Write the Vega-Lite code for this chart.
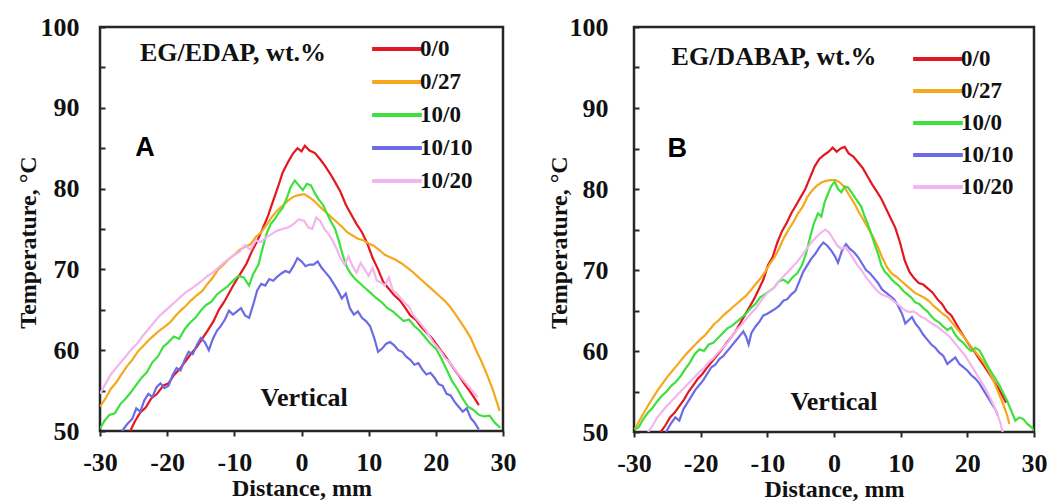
{
"$schema": "https://vega.github.io/schema/vega-lite/v6.json",
"padding": {"left": 14, "top": 12, "right": 5, "bottom": 0},
"spacing": 27,
"background": "white",
"config": {
  "view": {"stroke": "#262626", "strokeWidth": 2.5},
  "font": "Liberation Serif",
  "axis": {"grid": false, "domain": false, "ticks": true, "tickColor": "#262626", "tickWidth": 2, "labelFont": "Liberation Serif", "labelFontWeight": "bold", "labelFontSize": 26, "labelColor": "#111", "titleFont": "Liberation Serif", "titleFontWeight": "bold", "titleFontSize": 24, "titleColor": "#111", "labelOverlap": false, "labelFlush": false},
  "legend": {"orient": "none", "padding": 0, "symbolType": "M-1.35,-0.04H1.35V0.04H-1.35Z", "symbolSize": 1225, "symbolStrokeWidth": 2.5, "labelFont": "Liberation Serif", "labelFontWeight": "bold", "labelFontSize": 23, "labelColor": "#111", "rowPadding": 2, "title": null}
},
"datasets": {
"A": [
{"s":"0/0","x":-25.5,"t":50.0},{"s":"0/0","x":-24.8,"t":51.2},{"s":"0/0","x":-24,"t":52.3},{"s":"0/0","x":-23.2,"t":52.9},{"s":"0/0","x":-22.4,"t":54.0},{"s":"0/0","x":-21.5,"t":54.6},{"s":"0/0","x":-20.6,"t":55.6},{"s":"0/0","x":-19.8,"t":55.9},{"s":"0/0","x":-19,"t":56.9},{"s":"0/0","x":-18.2,"t":57.6},{"s":"0/0","x":-17.3,"t":58.6},{"s":"0/0","x":-16.5,"t":59.5},{"s":"0/0","x":-15.6,"t":60.4},{"s":"0/0","x":-14.8,"t":61.4},{"s":"0/0","x":-14,"t":62.4},{"s":"0/0","x":-13.1,"t":63.6},{"s":"0/0","x":-12.3,"t":65.0},{"s":"0/0","x":-11.5,"t":66.0},{"s":"0/0","x":-10.7,"t":67.2},{"s":"0/0","x":-9.9,"t":68.4},{"s":"0/0","x":-9,"t":69.6},{"s":"0/0","x":-8.2,"t":70.7},{"s":"0/0","x":-7.4,"t":72.2},{"s":"0/0","x":-6.6,"t":73.5},{"s":"0/0","x":-5.8,"t":75.0},{"s":"0/0","x":-5,"t":76.6},{"s":"0/0","x":-4.3,"t":78.3},{"s":"0/0","x":-3.5,"t":80.2},{"s":"0/0","x":-2.8,"t":82.0},{"s":"0/0","x":-2,"t":83.3},{"s":"0/0","x":-1.3,"t":84.3},{"s":"0/0","x":-0.6,"t":85.0},{"s":"0/0","x":0,"t":84.6},{"s":"0/0","x":0.5,"t":85.3},{"s":"0/0","x":1.2,"t":84.7},{"s":"0/0","x":2,"t":84.4},{"s":"0/0","x":2.8,"t":83.6},{"s":"0/0","x":3.5,"t":82.8},{"s":"0/0","x":4.3,"t":81.8},{"s":"0/0","x":5,"t":80.8},{"s":"0/0","x":5.8,"t":79.6},{"s":"0/0","x":6.6,"t":78.0},{"s":"0/0","x":7.4,"t":76.8},{"s":"0/0","x":8.2,"t":75.6},{"s":"0/0","x":9,"t":74.6},{"s":"0/0","x":9.8,"t":73.2},{"s":"0/0","x":10.6,"t":71.4},{"s":"0/0","x":11.4,"t":70.0},{"s":"0/0","x":12.2,"t":68.4},{"s":"0/0","x":13,"t":67.6},{"s":"0/0","x":13.8,"t":66.8},{"s":"0/0","x":14.6,"t":66.2},{"s":"0/0","x":15.4,"t":65.3},{"s":"0/0","x":16.2,"t":64.3},{"s":"0/0","x":17,"t":63.8},{"s":"0/0","x":17.8,"t":62.9},{"s":"0/0","x":18.6,"t":62.2},{"s":"0/0","x":19.4,"t":61.5},{"s":"0/0","x":20.2,"t":60.6},{"s":"0/0","x":21,"t":59.7},{"s":"0/0","x":21.8,"t":58.8},{"s":"0/0","x":22.6,"t":57.8},{"s":"0/0","x":23.4,"t":56.9},{"s":"0/0","x":24.2,"t":55.9},{"s":"0/0","x":25,"t":55.0},{"s":"0/0","x":25.8,"t":54.0},{"s":"0/0","x":26.4,"t":53.2},
{"s":"0/27","x":-30,"t":53.0},{"s":"0/27","x":-29.2,"t":54.0},{"s":"0/27","x":-28.4,"t":55.2},{"s":"0/27","x":-27.6,"t":56.0},{"s":"0/27","x":-26.8,"t":57.0},{"s":"0/27","x":-26,"t":58.0},{"s":"0/27","x":-25.2,"t":58.8},{"s":"0/27","x":-24.4,"t":59.8},{"s":"0/27","x":-23.6,"t":60.5},{"s":"0/27","x":-22.8,"t":61.2},{"s":"0/27","x":-22,"t":61.8},{"s":"0/27","x":-21.2,"t":62.4},{"s":"0/27","x":-20.4,"t":62.9},{"s":"0/27","x":-19.6,"t":63.4},{"s":"0/27","x":-18.8,"t":64.2},{"s":"0/27","x":-18,"t":64.9},{"s":"0/27","x":-17.2,"t":65.5},{"s":"0/27","x":-16.4,"t":66.2},{"s":"0/27","x":-15.6,"t":66.8},{"s":"0/27","x":-14.8,"t":67.3},{"s":"0/27","x":-14,"t":68.2},{"s":"0/27","x":-13.2,"t":69.0},{"s":"0/27","x":-12.4,"t":70.0},{"s":"0/27","x":-11.6,"t":70.6},{"s":"0/27","x":-10.8,"t":71.3},{"s":"0/27","x":-10,"t":71.8},{"s":"0/27","x":-9.2,"t":72.4},{"s":"0/27","x":-8.4,"t":72.8},{"s":"0/27","x":-7.6,"t":73.1},{"s":"0/27","x":-6.8,"t":74.0},{"s":"0/27","x":-6,"t":74.6},{"s":"0/27","x":-5.2,"t":75.5},{"s":"0/27","x":-4.4,"t":76.5},{"s":"0/27","x":-3.6,"t":77.3},{"s":"0/27","x":-2.8,"t":77.9},{"s":"0/27","x":-2,"t":78.5},{"s":"0/27","x":-1.2,"t":79.0},{"s":"0/27","x":-0.4,"t":79.2},{"s":"0/27","x":0.4,"t":79.3},{"s":"0/27","x":1.2,"t":78.9},{"s":"0/27","x":2,"t":78.4},{"s":"0/27","x":2.8,"t":77.7},{"s":"0/27","x":3.6,"t":77.1},{"s":"0/27","x":4.4,"t":76.5},{"s":"0/27","x":5.2,"t":75.9},{"s":"0/27","x":6,"t":75.3},{"s":"0/27","x":6.8,"t":74.6},{"s":"0/27","x":7.6,"t":74.2},{"s":"0/27","x":8.4,"t":73.8},{"s":"0/27","x":9.2,"t":73.6},{"s":"0/27","x":10,"t":73.2},{"s":"0/27","x":10.8,"t":72.9},{"s":"0/27","x":11.6,"t":72.4},{"s":"0/27","x":12.4,"t":71.8},{"s":"0/27","x":13.2,"t":71.5},{"s":"0/27","x":14,"t":71.2},{"s":"0/27","x":14.8,"t":70.8},{"s":"0/27","x":15.6,"t":70.3},{"s":"0/27","x":16.4,"t":69.8},{"s":"0/27","x":17.2,"t":69.2},{"s":"0/27","x":18,"t":68.6},{"s":"0/27","x":18.8,"t":68.0},{"s":"0/27","x":19.6,"t":67.4},{"s":"0/27","x":20.4,"t":66.8},{"s":"0/27","x":21.2,"t":66.2},{"s":"0/27","x":22,"t":65.5},{"s":"0/27","x":22.8,"t":64.6},{"s":"0/27","x":23.6,"t":63.6},{"s":"0/27","x":24.4,"t":62.6},{"s":"0/27","x":25.2,"t":61.5},{"s":"0/27","x":26,"t":60.0},{"s":"0/27","x":26.8,"t":58.6},{"s":"0/27","x":27.6,"t":57.0},{"s":"0/27","x":28.4,"t":55.3},{"s":"0/27","x":29,"t":53.8},{"s":"0/27","x":29.5,"t":52.5},
{"s":"10/0","x":-30,"t":50.3},{"s":"10/0","x":-29.3,"t":51.3},{"s":"10/0","x":-28.6,"t":52.0},{"s":"10/0","x":-27.8,"t":52.2},{"s":"10/0","x":-27,"t":53.3},{"s":"10/0","x":-26.2,"t":54.0},{"s":"10/0","x":-25.4,"t":54.8},{"s":"10/0","x":-24.6,"t":55.7},{"s":"10/0","x":-23.8,"t":56.6},{"s":"10/0","x":-23,"t":57.3},{"s":"10/0","x":-22.2,"t":58.5},{"s":"10/0","x":-21.4,"t":59.2},{"s":"10/0","x":-20.6,"t":60.4},{"s":"10/0","x":-19.8,"t":61.0},{"s":"10/0","x":-19,"t":61.7},{"s":"10/0","x":-18.2,"t":61.4},{"s":"10/0","x":-17.4,"t":62.6},{"s":"10/0","x":-16.6,"t":63.4},{"s":"10/0","x":-15.8,"t":64.0},{"s":"10/0","x":-15,"t":64.9},{"s":"10/0","x":-14.2,"t":65.6},{"s":"10/0","x":-13.4,"t":66.0},{"s":"10/0","x":-12.6,"t":66.9},{"s":"10/0","x":-11.8,"t":67.4},{"s":"10/0","x":-11,"t":67.9},{"s":"10/0","x":-10.2,"t":68.6},{"s":"10/0","x":-9.4,"t":69.2},{"s":"10/0","x":-8.6,"t":69.0},{"s":"10/0","x":-7.8,"t":68.0},{"s":"10/0","x":-7.2,"t":69.4},{"s":"10/0","x":-6.4,"t":70.6},{"s":"10/0","x":-5.8,"t":72.6},{"s":"10/0","x":-5.2,"t":74.4},{"s":"10/0","x":-4.6,"t":75.6},{"s":"10/0","x":-4,"t":76.2},{"s":"10/0","x":-3.4,"t":77.0},{"s":"10/0","x":-2.8,"t":77.6},{"s":"10/0","x":-2.2,"t":78.8},{"s":"10/0","x":-1.6,"t":80.2},{"s":"10/0","x":-1,"t":81.0},{"s":"10/0","x":-0.4,"t":80.4},{"s":"10/0","x":0.2,"t":79.8},{"s":"10/0","x":0.8,"t":80.6},{"s":"10/0","x":1.4,"t":80.4},{"s":"10/0","x":2,"t":79.4},{"s":"10/0","x":2.6,"t":78.6},{"s":"10/0","x":3.2,"t":78.0},{"s":"10/0","x":3.8,"t":76.9},{"s":"10/0","x":4.4,"t":75.9},{"s":"10/0","x":5,"t":75.0},{"s":"10/0","x":5.6,"t":73.4},{"s":"10/0","x":6.2,"t":71.6},{"s":"10/0","x":6.8,"t":70.2},{"s":"10/0","x":7.4,"t":69.4},{"s":"10/0","x":8,"t":68.8},{"s":"10/0","x":8.8,"t":68.2},{"s":"10/0","x":9.6,"t":67.6},{"s":"10/0","x":10.4,"t":67.0},{"s":"10/0","x":11.2,"t":66.4},{"s":"10/0","x":12,"t":65.9},{"s":"10/0","x":12.8,"t":65.2},{"s":"10/0","x":13.6,"t":64.8},{"s":"10/0","x":14.4,"t":64.2},{"s":"10/0","x":15.2,"t":63.6},{"s":"10/0","x":16,"t":63.8},{"s":"10/0","x":16.8,"t":63.0},{"s":"10/0","x":17.6,"t":62.4},{"s":"10/0","x":18.4,"t":61.6},{"s":"10/0","x":19.2,"t":60.8},{"s":"10/0","x":20,"t":60.2},{"s":"10/0","x":20.8,"t":59.0},{"s":"10/0","x":21.6,"t":57.6},{"s":"10/0","x":22.4,"t":56.2},{"s":"10/0","x":23.2,"t":55.2},{"s":"10/0","x":24,"t":54.0},{"s":"10/0","x":24.8,"t":53.0},{"s":"10/0","x":25.6,"t":52.6},{"s":"10/0","x":26.4,"t":52.0},{"s":"10/0","x":27.2,"t":51.8},{"s":"10/0","x":28,"t":51.9},{"s":"10/0","x":28.8,"t":51.0},{"s":"10/0","x":29.6,"t":50.4},
{"s":"10/10","x":-26.7,"t":50.0},{"s":"10/10","x":-26,"t":50.8},{"s":"10/10","x":-25.2,"t":51.5},{"s":"10/10","x":-24.6,"t":52.8},{"s":"10/10","x":-24,"t":52.4},{"s":"10/10","x":-23.4,"t":53.8},{"s":"10/10","x":-22.8,"t":54.6},{"s":"10/10","x":-22.2,"t":54.2},{"s":"10/10","x":-21.6,"t":55.4},{"s":"10/10","x":-21,"t":55.9},{"s":"10/10","x":-20.4,"t":55.3},{"s":"10/10","x":-19.8,"t":55.6},{"s":"10/10","x":-19.2,"t":56.9},{"s":"10/10","x":-18.6,"t":57.8},{"s":"10/10","x":-18,"t":57.5},{"s":"10/10","x":-17.4,"t":58.8},{"s":"10/10","x":-16.8,"t":59.8},{"s":"10/10","x":-16.2,"t":59.5},{"s":"10/10","x":-15.6,"t":60.6},{"s":"10/10","x":-15,"t":61.5},{"s":"10/10","x":-14.4,"t":61.0},{"s":"10/10","x":-13.8,"t":60.0},{"s":"10/10","x":-13.2,"t":61.4},{"s":"10/10","x":-12.6,"t":62.4},{"s":"10/10","x":-12,"t":63.0},{"s":"10/10","x":-11.4,"t":63.8},{"s":"10/10","x":-10.8,"t":64.9},{"s":"10/10","x":-10.2,"t":64.4},{"s":"10/10","x":-9.6,"t":64.8},{"s":"10/10","x":-9,"t":65.2},{"s":"10/10","x":-8.4,"t":64.3},{"s":"10/10","x":-7.8,"t":64.0},{"s":"10/10","x":-7.2,"t":65.6},{"s":"10/10","x":-6.6,"t":67.4},{"s":"10/10","x":-6,"t":68.2},{"s":"10/10","x":-5.4,"t":68.0},{"s":"10/10","x":-4.8,"t":68.8},{"s":"10/10","x":-4.2,"t":68.6},{"s":"10/10","x":-3.6,"t":69.1},{"s":"10/10","x":-3,"t":69.5},{"s":"10/10","x":-2.4,"t":69.8},{"s":"10/10","x":-1.8,"t":69.6},{"s":"10/10","x":-1.2,"t":70.4},{"s":"10/10","x":-0.6,"t":71.4},{"s":"10/10","x":0,"t":71.0},{"s":"10/10","x":0.6,"t":70.4},{"s":"10/10","x":1.2,"t":70.6},{"s":"10/10","x":1.8,"t":70.6},{"s":"10/10","x":2.4,"t":71.0},{"s":"10/10","x":3,"t":70.2},{"s":"10/10","x":3.6,"t":69.6},{"s":"10/10","x":4.2,"t":69.0},{"s":"10/10","x":4.8,"t":68.2},{"s":"10/10","x":5.4,"t":67.4},{"s":"10/10","x":6,"t":66.4},{"s":"10/10","x":6.6,"t":67.0},{"s":"10/10","x":7.2,"t":65.2},{"s":"10/10","x":7.8,"t":64.4},{"s":"10/10","x":8.4,"t":64.8},{"s":"10/10","x":9,"t":64.0},{"s":"10/10","x":9.6,"t":63.6},{"s":"10/10","x":10.2,"t":63.0},{"s":"10/10","x":10.8,"t":61.6},{"s":"10/10","x":11.4,"t":59.8},{"s":"10/10","x":12,"t":60.2},{"s":"10/10","x":12.6,"t":60.8},{"s":"10/10","x":13.2,"t":61.0},{"s":"10/10","x":13.8,"t":60.6},{"s":"10/10","x":14.4,"t":60.0},{"s":"10/10","x":15,"t":59.8},{"s":"10/10","x":15.6,"t":59.2},{"s":"10/10","x":16.2,"t":58.8},{"s":"10/10","x":16.8,"t":58.2},{"s":"10/10","x":17.4,"t":58.4},{"s":"10/10","x":18,"t":57.6},{"s":"10/10","x":18.6,"t":57.0},{"s":"10/10","x":19.2,"t":57.2},{"s":"10/10","x":19.8,"t":56.6},{"s":"10/10","x":20.4,"t":55.8},{"s":"10/10","x":21,"t":55.6},{"s":"10/10","x":21.6,"t":54.6},{"s":"10/10","x":22.2,"t":54.4},{"s":"10/10","x":22.8,"t":53.6},{"s":"10/10","x":23.4,"t":53.0},{"s":"10/10","x":24,"t":52.4},{"s":"10/10","x":24.6,"t":52.8},{"s":"10/10","x":25.2,"t":51.6},{"s":"10/10","x":25.8,"t":51.0},{"s":"10/10","x":26.4,"t":50.2},
{"s":"10/20","x":-30,"t":54.6},{"s":"10/20","x":-29.2,"t":55.8},{"s":"10/20","x":-28.4,"t":57.0},{"s":"10/20","x":-27.6,"t":57.8},{"s":"10/20","x":-26.8,"t":58.6},{"s":"10/20","x":-26,"t":59.4},{"s":"10/20","x":-25.2,"t":60.2},{"s":"10/20","x":-24.4,"t":60.9},{"s":"10/20","x":-23.6,"t":61.8},{"s":"10/20","x":-22.8,"t":62.6},{"s":"10/20","x":-22,"t":63.4},{"s":"10/20","x":-21.2,"t":64.2},{"s":"10/20","x":-20.4,"t":64.8},{"s":"10/20","x":-19.6,"t":65.4},{"s":"10/20","x":-18.8,"t":66.0},{"s":"10/20","x":-18,"t":66.6},{"s":"10/20","x":-17.2,"t":67.2},{"s":"10/20","x":-16.4,"t":67.6},{"s":"10/20","x":-15.6,"t":68.1},{"s":"10/20","x":-14.8,"t":68.6},{"s":"10/20","x":-14,"t":69.2},{"s":"10/20","x":-13.2,"t":69.6},{"s":"10/20","x":-12.4,"t":70.2},{"s":"10/20","x":-11.6,"t":70.8},{"s":"10/20","x":-10.8,"t":71.3},{"s":"10/20","x":-10,"t":71.8},{"s":"10/20","x":-9.2,"t":72.2},{"s":"10/20","x":-8.4,"t":73.0},{"s":"10/20","x":-7.6,"t":72.4},{"s":"10/20","x":-6.8,"t":73.6},{"s":"10/20","x":-6,"t":73.4},{"s":"10/20","x":-5.2,"t":74.0},{"s":"10/20","x":-4.4,"t":74.4},{"s":"10/20","x":-3.6,"t":74.8},{"s":"10/20","x":-2.8,"t":75.0},{"s":"10/20","x":-2,"t":75.2},{"s":"10/20","x":-1.2,"t":75.6},{"s":"10/20","x":-0.4,"t":76.2},{"s":"10/20","x":0.4,"t":76.0},{"s":"10/20","x":1,"t":75.2},{"s":"10/20","x":1.6,"t":75.0},{"s":"10/20","x":2.2,"t":76.4},{"s":"10/20","x":2.8,"t":76.0},{"s":"10/20","x":3.4,"t":75.0},{"s":"10/20","x":4,"t":74.4},{"s":"10/20","x":4.6,"t":73.6},{"s":"10/20","x":5.2,"t":72.6},{"s":"10/20","x":5.8,"t":71.4},{"s":"10/20","x":6.4,"t":70.6},{"s":"10/20","x":7,"t":71.6},{"s":"10/20","x":7.6,"t":70.4},{"s":"10/20","x":8.2,"t":69.6},{"s":"10/20","x":8.8,"t":70.8},{"s":"10/20","x":9.4,"t":70.0},{"s":"10/20","x":10,"t":69.2},{"s":"10/20","x":10.6,"t":70.2},{"s":"10/20","x":11.2,"t":68.6},{"s":"10/20","x":11.8,"t":68.4},{"s":"10/20","x":12.4,"t":68.0},{"s":"10/20","x":13,"t":69.0},{"s":"10/20","x":13.6,"t":67.4},{"s":"10/20","x":14.2,"t":67.0},{"s":"10/20","x":14.8,"t":66.4},{"s":"10/20","x":15.4,"t":65.8},{"s":"10/20","x":16,"t":65.4},{"s":"10/20","x":16.6,"t":64.4},{"s":"10/20","x":17.2,"t":63.8},{"s":"10/20","x":17.8,"t":63.2},{"s":"10/20","x":18.4,"t":62.6},{"s":"10/20","x":19,"t":61.8},{"s":"10/20","x":19.6,"t":61.0},{"s":"10/20","x":20.2,"t":60.4},{"s":"10/20","x":20.8,"t":59.8},{"s":"10/20","x":21.4,"t":59.0},{"s":"10/20","x":22,"t":58.6},{"s":"10/20","x":22.6,"t":57.9},{"s":"10/20","x":23.2,"t":57.2},{"s":"10/20","x":23.8,"t":56.6},{"s":"10/20","x":24.4,"t":56.0},{"s":"10/20","x":25,"t":55.4},{"s":"10/20","x":25.6,"t":54.8},{"s":"10/20","x":26.2,"t":54.2}
],
"B": [
{"s":"0/0","x":-26,"t":50.0},{"s":"0/0","x":-25.3,"t":50.8},{"s":"0/0","x":-24.6,"t":51.8},{"s":"0/0","x":-23.9,"t":52.4},{"s":"0/0","x":-23.2,"t":53.2},{"s":"0/0","x":-22.5,"t":54.0},{"s":"0/0","x":-21.8,"t":55.0},{"s":"0/0","x":-21.1,"t":55.8},{"s":"0/0","x":-20.4,"t":56.6},{"s":"0/0","x":-19.7,"t":57.2},{"s":"0/0","x":-19,"t":58.0},{"s":"0/0","x":-18.3,"t":58.7},{"s":"0/0","x":-17.6,"t":59.4},{"s":"0/0","x":-16.9,"t":60.1},{"s":"0/0","x":-16.2,"t":60.9},{"s":"0/0","x":-15.5,"t":61.6},{"s":"0/0","x":-14.8,"t":62.4},{"s":"0/0","x":-14.1,"t":63.4},{"s":"0/0","x":-13.4,"t":64.4},{"s":"0/0","x":-12.7,"t":65.4},{"s":"0/0","x":-12,"t":66.4},{"s":"0/0","x":-11.3,"t":67.6},{"s":"0/0","x":-10.6,"t":68.8},{"s":"0/0","x":-9.9,"t":70.6},{"s":"0/0","x":-9.2,"t":71.6},{"s":"0/0","x":-8.5,"t":73.4},{"s":"0/0","x":-7.8,"t":74.8},{"s":"0/0","x":-7.1,"t":75.8},{"s":"0/0","x":-6.4,"t":77.0},{"s":"0/0","x":-5.7,"t":78.0},{"s":"0/0","x":-5,"t":79.0},{"s":"0/0","x":-4.3,"t":80.0},{"s":"0/0","x":-3.6,"t":81.4},{"s":"0/0","x":-2.9,"t":82.8},{"s":"0/0","x":-2.2,"t":83.7},{"s":"0/0","x":-1.5,"t":84.2},{"s":"0/0","x":-0.8,"t":84.6},{"s":"0/0","x":-0.2,"t":85.1},{"s":"0/0","x":0.4,"t":84.6},{"s":"0/0","x":1,"t":85.0},{"s":"0/0","x":1.6,"t":85.2},{"s":"0/0","x":2.2,"t":84.4},{"s":"0/0","x":2.9,"t":84.0},{"s":"0/0","x":3.6,"t":83.3},{"s":"0/0","x":4.3,"t":82.6},{"s":"0/0","x":5,"t":81.6},{"s":"0/0","x":5.7,"t":80.6},{"s":"0/0","x":6.4,"t":79.7},{"s":"0/0","x":7.1,"t":78.8},{"s":"0/0","x":7.8,"t":77.6},{"s":"0/0","x":8.5,"t":76.4},{"s":"0/0","x":9.2,"t":75.2},{"s":"0/0","x":9.9,"t":73.4},{"s":"0/0","x":10.6,"t":71.2},{"s":"0/0","x":11.3,"t":69.8},{"s":"0/0","x":12,"t":69.0},{"s":"0/0","x":12.7,"t":68.4},{"s":"0/0","x":13.4,"t":68.2},{"s":"0/0","x":14.1,"t":67.7},{"s":"0/0","x":14.8,"t":67.2},{"s":"0/0","x":15.5,"t":66.4},{"s":"0/0","x":16.2,"t":65.8},{"s":"0/0","x":16.9,"t":64.9},{"s":"0/0","x":17.6,"t":64.4},{"s":"0/0","x":18.3,"t":63.4},{"s":"0/0","x":19,"t":62.4},{"s":"0/0","x":19.7,"t":61.5},{"s":"0/0","x":20.4,"t":60.6},{"s":"0/0","x":21.1,"t":59.9},{"s":"0/0","x":21.8,"t":59.0},{"s":"0/0","x":22.5,"t":58.2},{"s":"0/0","x":23.2,"t":57.3},{"s":"0/0","x":23.9,"t":56.4},{"s":"0/0","x":24.6,"t":55.5},{"s":"0/0","x":25.3,"t":54.4},{"s":"0/0","x":25.8,"t":53.6},
{"s":"0/27","x":-29.9,"t":50.3},{"s":"0/27","x":-29.2,"t":51.4},{"s":"0/27","x":-28.5,"t":52.4},{"s":"0/27","x":-27.8,"t":53.4},{"s":"0/27","x":-27.1,"t":54.3},{"s":"0/27","x":-26.4,"t":55.2},{"s":"0/27","x":-25.7,"t":56.0},{"s":"0/27","x":-25,"t":56.8},{"s":"0/27","x":-24.3,"t":57.5},{"s":"0/27","x":-23.6,"t":58.2},{"s":"0/27","x":-22.9,"t":58.9},{"s":"0/27","x":-22.2,"t":59.6},{"s":"0/27","x":-21.5,"t":60.2},{"s":"0/27","x":-20.8,"t":60.8},{"s":"0/27","x":-20.1,"t":61.4},{"s":"0/27","x":-19.4,"t":61.9},{"s":"0/27","x":-18.7,"t":62.6},{"s":"0/27","x":-18,"t":63.3},{"s":"0/27","x":-17.3,"t":63.8},{"s":"0/27","x":-16.6,"t":64.4},{"s":"0/27","x":-15.9,"t":64.9},{"s":"0/27","x":-15.2,"t":65.4},{"s":"0/27","x":-14.5,"t":65.9},{"s":"0/27","x":-13.8,"t":66.4},{"s":"0/27","x":-13.1,"t":66.9},{"s":"0/27","x":-12.4,"t":67.6},{"s":"0/27","x":-11.7,"t":68.3},{"s":"0/27","x":-11,"t":69.0},{"s":"0/27","x":-10.3,"t":69.8},{"s":"0/27","x":-9.6,"t":70.8},{"s":"0/27","x":-8.9,"t":71.6},{"s":"0/27","x":-8.2,"t":72.7},{"s":"0/27","x":-7.5,"t":74.0},{"s":"0/27","x":-6.8,"t":75.0},{"s":"0/27","x":-6.1,"t":75.9},{"s":"0/27","x":-5.4,"t":77.0},{"s":"0/27","x":-4.7,"t":77.8},{"s":"0/27","x":-4,"t":79.0},{"s":"0/27","x":-3.3,"t":79.8},{"s":"0/27","x":-2.6,"t":80.4},{"s":"0/27","x":-1.9,"t":80.8},{"s":"0/27","x":-1.2,"t":81.0},{"s":"0/27","x":-0.5,"t":81.1},{"s":"0/27","x":0.2,"t":81.1},{"s":"0/27","x":0.9,"t":80.8},{"s":"0/27","x":1.6,"t":80.2},{"s":"0/27","x":2.3,"t":79.2},{"s":"0/27","x":3,"t":78.3},{"s":"0/27","x":3.7,"t":77.2},{"s":"0/27","x":4.4,"t":76.2},{"s":"0/27","x":5.1,"t":75.2},{"s":"0/27","x":5.8,"t":74.2},{"s":"0/27","x":6.5,"t":73.0},{"s":"0/27","x":7.2,"t":71.6},{"s":"0/27","x":7.9,"t":70.4},{"s":"0/27","x":8.6,"t":69.6},{"s":"0/27","x":9.3,"t":69.2},{"s":"0/27","x":10,"t":68.7},{"s":"0/27","x":10.7,"t":68.2},{"s":"0/27","x":11.4,"t":67.7},{"s":"0/27","x":12.1,"t":67.2},{"s":"0/27","x":12.8,"t":66.9},{"s":"0/27","x":13.5,"t":66.6},{"s":"0/27","x":14.2,"t":66.2},{"s":"0/27","x":14.9,"t":65.6},{"s":"0/27","x":15.6,"t":65.1},{"s":"0/27","x":16.3,"t":64.6},{"s":"0/27","x":17,"t":64.2},{"s":"0/27","x":17.7,"t":63.5},{"s":"0/27","x":18.4,"t":62.8},{"s":"0/27","x":19.1,"t":62.1},{"s":"0/27","x":19.8,"t":61.4},{"s":"0/27","x":20.5,"t":60.6},{"s":"0/27","x":21.2,"t":59.9},{"s":"0/27","x":21.9,"t":59.2},{"s":"0/27","x":22.6,"t":58.4},{"s":"0/27","x":23.3,"t":57.4},{"s":"0/27","x":24,"t":56.2},{"s":"0/27","x":24.7,"t":54.8},{"s":"0/27","x":25.4,"t":53.4},{"s":"0/27","x":26,"t":52.0},{"s":"0/27","x":26.3,"t":51.0},
{"s":"10/0","x":-29.9,"t":50.3},{"s":"10/0","x":-29.3,"t":50.6},{"s":"10/0","x":-28.6,"t":51.6},{"s":"10/0","x":-27.9,"t":52.4},{"s":"10/0","x":-27.2,"t":53.0},{"s":"10/0","x":-26.5,"t":53.8},{"s":"10/0","x":-25.8,"t":54.5},{"s":"10/0","x":-25.1,"t":55.0},{"s":"10/0","x":-24.4,"t":55.7},{"s":"10/0","x":-23.7,"t":56.2},{"s":"10/0","x":-23,"t":56.9},{"s":"10/0","x":-22.3,"t":57.8},{"s":"10/0","x":-21.6,"t":58.6},{"s":"10/0","x":-20.9,"t":59.6},{"s":"10/0","x":-20.2,"t":60.2},{"s":"10/0","x":-19.5,"t":60.0},{"s":"10/0","x":-18.8,"t":60.8},{"s":"10/0","x":-18.1,"t":61.0},{"s":"10/0","x":-17.4,"t":61.6},{"s":"10/0","x":-16.7,"t":62.2},{"s":"10/0","x":-16,"t":62.8},{"s":"10/0","x":-15.3,"t":63.1},{"s":"10/0","x":-14.6,"t":63.6},{"s":"10/0","x":-13.9,"t":64.1},{"s":"10/0","x":-13.2,"t":64.6},{"s":"10/0","x":-12.5,"t":65.3},{"s":"10/0","x":-11.8,"t":65.8},{"s":"10/0","x":-11.1,"t":66.6},{"s":"10/0","x":-10.4,"t":67.0},{"s":"10/0","x":-9.7,"t":67.4},{"s":"10/0","x":-9,"t":67.8},{"s":"10/0","x":-8.3,"t":68.6},{"s":"10/0","x":-7.6,"t":68.8},{"s":"10/0","x":-6.9,"t":68.4},{"s":"10/0","x":-6.2,"t":69.1},{"s":"10/0","x":-5.5,"t":69.6},{"s":"10/0","x":-4.8,"t":70.6},{"s":"10/0","x":-4.2,"t":72.0},{"s":"10/0","x":-3.6,"t":74.0},{"s":"10/0","x":-3,"t":75.8},{"s":"10/0","x":-2.4,"t":77.0},{"s":"10/0","x":-1.9,"t":76.6},{"s":"10/0","x":-1.4,"t":78.4},{"s":"10/0","x":-0.9,"t":79.4},{"s":"10/0","x":-0.4,"t":80.4},{"s":"10/0","x":0.1,"t":80.9},{"s":"10/0","x":0.6,"t":80.0},{"s":"10/0","x":1.1,"t":79.6},{"s":"10/0","x":1.6,"t":80.3},{"s":"10/0","x":2.1,"t":80.2},{"s":"10/0","x":2.6,"t":79.6},{"s":"10/0","x":3.1,"t":79.0},{"s":"10/0","x":3.6,"t":78.4},{"s":"10/0","x":4.1,"t":77.8},{"s":"10/0","x":4.6,"t":76.6},{"s":"10/0","x":5.1,"t":75.6},{"s":"10/0","x":5.6,"t":74.4},{"s":"10/0","x":6.1,"t":73.2},{"s":"10/0","x":6.6,"t":72.0},{"s":"10/0","x":7.1,"t":70.6},{"s":"10/0","x":7.6,"t":69.8},{"s":"10/0","x":8.1,"t":69.4},{"s":"10/0","x":8.6,"t":68.9},{"s":"10/0","x":9.2,"t":68.4},{"s":"10/0","x":9.8,"t":68.0},{"s":"10/0","x":10.4,"t":67.4},{"s":"10/0","x":11,"t":67.0},{"s":"10/0","x":11.6,"t":66.6},{"s":"10/0","x":12.2,"t":66.0},{"s":"10/0","x":12.8,"t":65.8},{"s":"10/0","x":13.4,"t":65.3},{"s":"10/0","x":14,"t":64.9},{"s":"10/0","x":14.6,"t":64.3},{"s":"10/0","x":15.2,"t":63.8},{"s":"10/0","x":15.8,"t":63.5},{"s":"10/0","x":16.4,"t":63.0},{"s":"10/0","x":17,"t":62.6},{"s":"10/0","x":17.6,"t":62.9},{"s":"10/0","x":18.2,"t":62.0},{"s":"10/0","x":18.8,"t":61.4},{"s":"10/0","x":19.4,"t":61.0},{"s":"10/0","x":20,"t":60.4},{"s":"10/0","x":20.6,"t":60.0},{"s":"10/0","x":21.2,"t":60.4},{"s":"10/0","x":21.8,"t":60.1},{"s":"10/0","x":22.4,"t":59.2},{"s":"10/0","x":23,"t":58.2},{"s":"10/0","x":23.6,"t":57.4},{"s":"10/0","x":24.2,"t":56.6},{"s":"10/0","x":24.8,"t":55.8},{"s":"10/0","x":25.4,"t":54.8},{"s":"10/0","x":26,"t":53.8},{"s":"10/0","x":26.6,"t":52.6},{"s":"10/0","x":27.2,"t":51.4},{"s":"10/0","x":27.8,"t":51.8},{"s":"10/0","x":28.4,"t":51.6},{"s":"10/0","x":29,"t":51.0},{"s":"10/0","x":29.6,"t":50.6},{"s":"10/0","x":30,"t":50.2},
{"s":"10/10","x":-25.2,"t":50.0},{"s":"10/10","x":-24.5,"t":51.0},{"s":"10/10","x":-23.8,"t":51.8},{"s":"10/10","x":-23.2,"t":51.4},{"s":"10/10","x":-22.6,"t":52.8},{"s":"10/10","x":-22,"t":53.6},{"s":"10/10","x":-21.4,"t":54.4},{"s":"10/10","x":-20.8,"t":55.2},{"s":"10/10","x":-20.2,"t":55.8},{"s":"10/10","x":-19.6,"t":56.4},{"s":"10/10","x":-19,"t":57.2},{"s":"10/10","x":-18.4,"t":58.0},{"s":"10/10","x":-17.8,"t":58.3},{"s":"10/10","x":-17.2,"t":59.0},{"s":"10/10","x":-16.6,"t":59.4},{"s":"10/10","x":-16,"t":60.0},{"s":"10/10","x":-15.4,"t":60.6},{"s":"10/10","x":-14.8,"t":61.2},{"s":"10/10","x":-14.2,"t":61.8},{"s":"10/10","x":-13.6,"t":62.4},{"s":"10/10","x":-13.2,"t":61.8},{"s":"10/10","x":-12.8,"t":60.8},{"s":"10/10","x":-12.4,"t":62.2},{"s":"10/10","x":-11.8,"t":63.0},{"s":"10/10","x":-11.2,"t":63.6},{"s":"10/10","x":-10.6,"t":64.4},{"s":"10/10","x":-10,"t":64.6},{"s":"10/10","x":-9.4,"t":64.9},{"s":"10/10","x":-8.8,"t":65.2},{"s":"10/10","x":-8.2,"t":65.6},{"s":"10/10","x":-7.6,"t":66.2},{"s":"10/10","x":-7,"t":66.4},{"s":"10/10","x":-6.4,"t":67.0},{"s":"10/10","x":-5.8,"t":67.4},{"s":"10/10","x":-5.2,"t":68.6},{"s":"10/10","x":-4.6,"t":69.8},{"s":"10/10","x":-4,"t":70.6},{"s":"10/10","x":-3.4,"t":71.4},{"s":"10/10","x":-2.8,"t":72.0},{"s":"10/10","x":-2.2,"t":72.8},{"s":"10/10","x":-1.6,"t":73.4},{"s":"10/10","x":-1,"t":73.0},{"s":"10/10","x":-0.4,"t":72.4},{"s":"10/10","x":0.2,"t":71.6},{"s":"10/10","x":0.6,"t":70.9},{"s":"10/10","x":1.2,"t":72.4},{"s":"10/10","x":1.8,"t":73.2},{"s":"10/10","x":2.4,"t":72.6},{"s":"10/10","x":3,"t":72.2},{"s":"10/10","x":3.6,"t":71.6},{"s":"10/10","x":4.2,"t":70.8},{"s":"10/10","x":4.8,"t":70.0},{"s":"10/10","x":5.4,"t":69.6},{"s":"10/10","x":6,"t":69.0},{"s":"10/10","x":6.6,"t":68.4},{"s":"10/10","x":7.2,"t":67.6},{"s":"10/10","x":7.8,"t":67.2},{"s":"10/10","x":8.4,"t":66.8},{"s":"10/10","x":9,"t":66.4},{"s":"10/10","x":9.6,"t":65.6},{"s":"10/10","x":10.2,"t":64.6},{"s":"10/10","x":10.7,"t":63.4},{"s":"10/10","x":11.2,"t":63.8},{"s":"10/10","x":11.7,"t":64.2},{"s":"10/10","x":12.2,"t":63.4},{"s":"10/10","x":12.8,"t":62.8},{"s":"10/10","x":13.4,"t":62.0},{"s":"10/10","x":14,"t":61.4},{"s":"10/10","x":14.6,"t":60.8},{"s":"10/10","x":15.2,"t":60.4},{"s":"10/10","x":15.8,"t":59.8},{"s":"10/10","x":16.4,"t":59.4},{"s":"10/10","x":17,"t":58.4},{"s":"10/10","x":17.6,"t":58.8},{"s":"10/10","x":18.2,"t":59.2},{"s":"10/10","x":18.8,"t":58.4},{"s":"10/10","x":19.4,"t":58.0},{"s":"10/10","x":20,"t":57.6},{"s":"10/10","x":20.6,"t":57.0},{"s":"10/10","x":21.2,"t":56.6},{"s":"10/10","x":21.8,"t":56.0},{"s":"10/10","x":22.4,"t":55.2},{"s":"10/10","x":23,"t":54.4},{"s":"10/10","x":23.6,"t":53.6},{"s":"10/10","x":24.2,"t":52.8},{"s":"10/10","x":24.6,"t":52.0},
{"s":"10/20","x":-27.9,"t":50.0},{"s":"10/20","x":-27.2,"t":50.8},{"s":"10/20","x":-26.5,"t":51.8},{"s":"10/20","x":-25.8,"t":52.5},{"s":"10/20","x":-25.1,"t":53.2},{"s":"10/20","x":-24.4,"t":53.8},{"s":"10/20","x":-23.7,"t":54.4},{"s":"10/20","x":-23,"t":55.0},{"s":"10/20","x":-22.3,"t":55.6},{"s":"10/20","x":-21.6,"t":56.2},{"s":"10/20","x":-20.9,"t":56.8},{"s":"10/20","x":-20.2,"t":57.4},{"s":"10/20","x":-19.5,"t":57.9},{"s":"10/20","x":-18.8,"t":58.6},{"s":"10/20","x":-18.1,"t":59.1},{"s":"10/20","x":-17.4,"t":59.8},{"s":"10/20","x":-16.7,"t":60.4},{"s":"10/20","x":-16,"t":61.0},{"s":"10/20","x":-15.3,"t":61.8},{"s":"10/20","x":-14.6,"t":62.6},{"s":"10/20","x":-13.9,"t":63.2},{"s":"10/20","x":-13.2,"t":63.9},{"s":"10/20","x":-12.5,"t":64.6},{"s":"10/20","x":-11.8,"t":65.2},{"s":"10/20","x":-11.1,"t":66.0},{"s":"10/20","x":-10.4,"t":66.8},{"s":"10/20","x":-9.7,"t":67.4},{"s":"10/20","x":-9,"t":67.8},{"s":"10/20","x":-8.3,"t":68.6},{"s":"10/20","x":-7.6,"t":69.2},{"s":"10/20","x":-6.9,"t":69.8},{"s":"10/20","x":-6.2,"t":70.4},{"s":"10/20","x":-5.5,"t":71.0},{"s":"10/20","x":-4.8,"t":71.8},{"s":"10/20","x":-4.1,"t":72.6},{"s":"10/20","x":-3.4,"t":73.4},{"s":"10/20","x":-2.7,"t":74.0},{"s":"10/20","x":-2,"t":74.6},{"s":"10/20","x":-1.3,"t":75.0},{"s":"10/20","x":-0.7,"t":74.6},{"s":"10/20","x":-0.1,"t":73.8},{"s":"10/20","x":0.5,"t":73.0},{"s":"10/20","x":1.1,"t":72.6},{"s":"10/20","x":1.7,"t":72.8},{"s":"10/20","x":2.3,"t":72.2},{"s":"10/20","x":2.9,"t":71.4},{"s":"10/20","x":3.5,"t":70.6},{"s":"10/20","x":4.1,"t":70.0},{"s":"10/20","x":4.7,"t":69.2},{"s":"10/20","x":5.3,"t":68.6},{"s":"10/20","x":5.9,"t":68.0},{"s":"10/20","x":6.5,"t":67.4},{"s":"10/20","x":7.1,"t":67.0},{"s":"10/20","x":7.7,"t":66.8},{"s":"10/20","x":8.3,"t":66.6},{"s":"10/20","x":8.9,"t":66.2},{"s":"10/20","x":9.5,"t":65.8},{"s":"10/20","x":10.1,"t":65.4},{"s":"10/20","x":10.7,"t":65.0},{"s":"10/20","x":11.3,"t":64.8},{"s":"10/20","x":11.9,"t":64.9},{"s":"10/20","x":12.5,"t":64.6},{"s":"10/20","x":13.1,"t":64.2},{"s":"10/20","x":13.7,"t":64.0},{"s":"10/20","x":14.3,"t":63.6},{"s":"10/20","x":14.9,"t":63.3},{"s":"10/20","x":15.5,"t":63.0},{"s":"10/20","x":16.1,"t":62.6},{"s":"10/20","x":16.7,"t":62.2},{"s":"10/20","x":17.3,"t":61.8},{"s":"10/20","x":17.9,"t":61.2},{"s":"10/20","x":18.5,"t":60.6},{"s":"10/20","x":19.1,"t":60.0},{"s":"10/20","x":19.7,"t":59.4},{"s":"10/20","x":20.3,"t":58.6},{"s":"10/20","x":20.9,"t":57.8},{"s":"10/20","x":21.5,"t":57.0},{"s":"10/20","x":22.1,"t":56.2},{"s":"10/20","x":22.7,"t":55.4},{"s":"10/20","x":23.3,"t":54.4},{"s":"10/20","x":23.9,"t":53.4},{"s":"10/20","x":24.5,"t":52.2},{"s":"10/20","x":25,"t":51.0},{"s":"10/20","x":25.3,"t":50.0}
]
},
"hconcat": [
{
  "width": 403, "height": 404,
  "layer": [
    {
      "data": {"name": "A"},
      "mark": {"type": "line", "strokeWidth": 2.2, "clip": true},
      "encoding": {
        "x": {"field": "x", "type": "quantitative", "scale": {"domain": [-30, 30], "nice": false, "zero": false},
              "axis": {"values": [-30,-25,-20,-15,-10,-5,0,5,10,15,20,25,30], "labelExpr": "datum.value % 10 === 0 ? '' + datum.value : ''", "tickSize": 5, "labelPadding": 13, "title": "Distance, mm", "titleY": 64, "titleBaseline": "alphabetic"}},
        "y": {"field": "t", "type": "quantitative", "scale": {"domain": [50, 100], "nice": false, "zero": false},
              "axis": {"values": [50,55,60,65,70,75,80,85,90,95,100], "labelExpr": "datum.value % 10 === 0 ? '' + datum.value : ''", "tickSize": -5, "labelPadding": 26, "title": "Temperature, °C", "titleX": -65, "titleY": 215, "titleBaseline": "alphabetic", "titleAngle": -90}},
        "color": {"field": "s", "type": "nominal",
                  "scale": {"domain": ["0/0","0/27","10/0","10/10","10/20"], "range": ["#e3171f","#f5a81c","#3ee03e","#6b6be6","#f4b4ee"]},
                  "legend": {"legendX": 278, "legendY": 3, "labelOffset": 4, "rowPadding": 2}}
      }
    },
    {"data": {"values": [{}]}, "mark": {"type": "text", "text": "EG/EDAP, wt.%", "font": "Liberation Serif", "fontWeight": "bold", "fontSize": 26, "align": "center", "baseline": "alphabetic", "color": "#111"},
     "encoding": {"x": {"datum": -10.2}, "y": {"datum": 95.8}}},
    {"data": {"values": [{}]}, "mark": {"type": "text", "text": "A", "font": "Liberation Sans", "fontWeight": "bold", "fontSize": 27, "align": "center", "baseline": "middle", "color": "#000"},
     "encoding": {"x": {"datum": -23.3}, "y": {"datum": 85}}},
    {"data": {"values": [{}]}, "mark": {"type": "text", "text": "Vertical", "font": "Liberation Serif", "fontWeight": "bold", "fontSize": 26, "align": "center", "baseline": "alphabetic", "color": "#111"},
     "encoding": {"x": {"datum": 0.4}, "y": {"datum": 53.1}}}
  ]
},
{
  "width": 400, "height": 405,
  "layer": [
    {
      "data": {"name": "B"},
      "mark": {"type": "line", "strokeWidth": 2.2, "clip": true},
      "encoding": {
        "x": {"field": "x", "type": "quantitative", "scale": {"domain": [-30, 30], "nice": false, "zero": false},
              "axis": {"values": [-30,-25,-20,-15,-10,-5,0,5,10,15,20,25,30], "labelExpr": "datum.value % 10 === 0 ? '' + datum.value : ''", "tickSize": 5, "labelPadding": 13, "title": "Distance, mm", "titleY": 64, "titleBaseline": "alphabetic"}},
        "y": {"field": "t", "type": "quantitative", "scale": {"domain": [50, 100], "nice": false, "zero": false},
              "axis": {"values": [50,55,60,65,70,75,80,85,90,95,100], "labelExpr": "datum.value % 10 === 0 ? '' + datum.value : ''", "tickSize": -5, "labelPadding": 31, "title": "Temperature, °C", "titleX": -68, "titleY": 215, "titleBaseline": "alphabetic", "titleAngle": -90}},
        "color": {"field": "s", "type": "nominal",
                  "scale": {"domain": ["0/0","0/27","10/0","10/10","10/20"], "range": ["#e3171f","#f5a81c","#3ee03e","#6b6be6","#f4b4ee"]},
                  "legend": {"legendX": 285, "legendY": 13, "labelOffset": 4, "rowPadding": 1}}
      }
    },
    {"data": {"values": [{}]}, "mark": {"type": "text", "text": "EG/DABAP, wt.%", "font": "Liberation Serif", "fontWeight": "bold", "fontSize": 26, "align": "center", "baseline": "alphabetic", "color": "#111"},
     "encoding": {"x": {"datum": -9.0}, "y": {"datum": 95.3}}},
    {"data": {"values": [{}]}, "mark": {"type": "text", "text": "B", "font": "Liberation Sans", "fontWeight": "bold", "fontSize": 27, "align": "center", "baseline": "middle", "color": "#000"},
     "encoding": {"x": {"datum": -23.5}, "y": {"datum": 84.9}}},
    {"data": {"values": [{}]}, "mark": {"type": "text", "text": "Vertical", "font": "Liberation Serif", "fontWeight": "bold", "fontSize": 26, "align": "center", "baseline": "alphabetic", "color": "#111"},
     "encoding": {"x": {"datum": 0}, "y": {"datum": 52.7}}}
  ]
}
],
"resolve": {"scale": {"color": "independent", "x": "independent", "y": "independent"}, "legend": {"color": "independent"}}
}
